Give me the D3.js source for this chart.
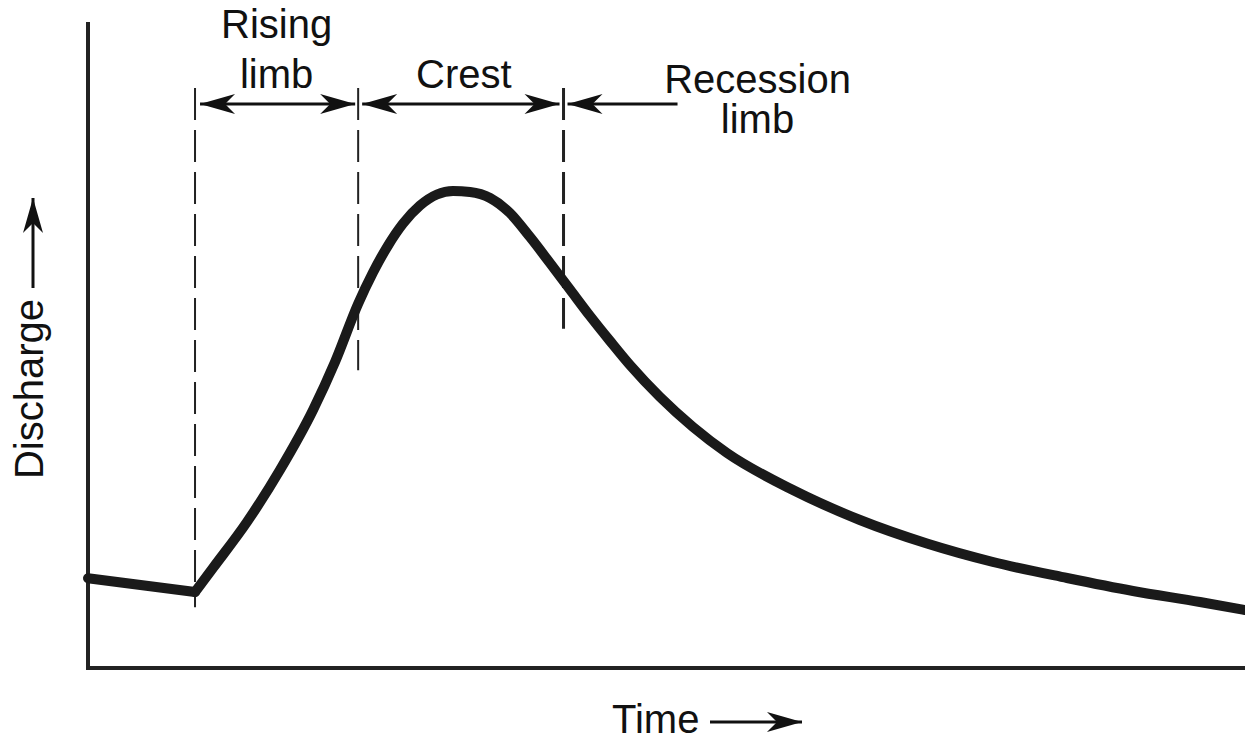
<!DOCTYPE html>
<html>
<head>
<meta charset="utf-8">
<script src="https://cdn.jsdelivr.net/npm/d3@7"></script>
<style>
  body { margin: 0; background: #fff; }
  .label { font-family: "Liberation Sans", Arial, sans-serif; font-size: 40px; fill: #111; }
</style>
</head>
<body>
<div id="chart"></div>
<script>
//hydrograph data (time and discharge in arbitrary units, 0-100)
let baseTime = [0, 9.25];
let baseFlow = [13.9, 11.76];

let stormTime = [9.25, 10.80, 13.74, 16.59, 19.45, 21.35, 23.34, 24.63, 25.93, 27.23, 28.69, 30.16, 31.55,
                 33.02, 34.75, 36.47, 38.20, 39.93, 41.66, 43.39, 45.12, 46.84, 49.44, 52.29, 55.23,
                 60.93, 66.72, 72.51, 78.22, 84.62, 90.32, 96.11, 100];
let stormFlow = [11.76, 15.48, 22.60, 30.65, 39.94, 47.37, 56.35, 61.22, 65.40, 68.81, 71.59, 73.30, 73.84,
                 73.68, 72.76, 70.43, 66.72, 62.69, 58.59, 54.49, 50.62, 46.90, 41.95, 37.31, 33.28,
                 27.55, 22.91, 19.27, 16.41, 13.93, 11.92, 10.22, 8.98];

//phase boundaries (dashed lines) and where each dashed line stops
let phaseTimes = [9.25, 23.35, 41.1];
let phaseBottoms = [9.4, 46.1, 52.5];
let phaseTop = 89.8;
let arrowLevel = 87.3;

//svg size
let svgWidth = 1245;
let svgHeight = 741;

let chartMargin = {
    top: 22,
    right: 0,
    bottom: 73,
    left: 88
};

let chartWidth = svgWidth - chartMargin.left - chartMargin.right;
let chartHeight = svgHeight - chartMargin.top - chartMargin.bottom;

let svg = d3.select('#chart')
            .append('svg')
            .attr('width', svgWidth)
            .attr('height', svgHeight);

//arrowhead marker
let defs = svg.append('defs');
defs.append('marker')
    .attr('id', 'head')
    .attr('viewBox', '-36 -11 37 22')
    .attr('refX', 0)
    .attr('refY', 0)
    .attr('markerWidth', 37)
    .attr('markerHeight', 22)
    .attr('markerUnits', 'userSpaceOnUse')
    .attr('orient', 'auto-start-reverse')
    .append('path')
    .attr('d', 'M0,0 L-35,-10 Q-29,-4 -25,0 Q-29,4 -35,10 Z')
    .attr('fill', '#111');

let chartGroup = svg.append('g')
                    .attr('transform', `translate(${chartMargin.left}, ${chartMargin.top})`);

//scales
let xScale = d3.scaleLinear()
               .domain([0, 100])
               .range([0, chartWidth]);

let yScale = d3.scaleLinear()
               .domain([0, 100])
               .range([chartHeight, 0]);

//axes, just the lines with no ticks
chartGroup.append('line')
          .attr('x1', 0).attr('x2', 0)
          .attr('y1', 0).attr('y2', chartHeight + 2)
          .attr('stroke', '#222')
          .attr('stroke-width', 4);
chartGroup.append('line')
          .attr('x1', -2).attr('x2', chartWidth)
          .attr('y1', chartHeight).attr('y2', chartHeight)
          .attr('stroke', '#222')
          .attr('stroke-width', 4);

//dashed phase lines
chartGroup.selectAll('.phase')
          .data(phaseTimes)
          .enter()
          .append('line')
          .classed('phase', true)
          .attr('x1', d => xScale(d))
          .attr('x2', d => xScale(d))
          .attr('y1', yScale(phaseTop))
          .attr('y2', (d, i) => yScale(phaseBottoms[i]))
          .attr('stroke', '#222')
          .attr('stroke-width', (d, i) => i == 2 ? 3 : 2)
          .attr('stroke-dasharray', '32 10');

//the hydrograph
let baseLine = d3.line()
                 .x(d => xScale(d[0]))
                 .y(d => yScale(d[1]));
let stormLine = d3.line()
                  .x(d => xScale(d[0]))
                  .y(d => yScale(d[1]))
                  .curve(d3.curveMonotoneX);

chartGroup.append('path')
          .attr('d', baseLine(d3.zip(baseTime, baseFlow)))
          .attr('fill', 'none')
          .attr('stroke', '#1a1a1a')
          .attr('stroke-width', 10)
          .attr('stroke-linecap', 'round');
chartGroup.append('path')
          .attr('d', stormLine(d3.zip(stormTime, stormFlow)))
          .attr('fill', 'none')
          .attr('stroke', '#1a1a1a')
          .attr('stroke-width', 10)
          .attr('stroke-linecap', 'round')
          .attr('stroke-linejoin', 'round');

//double arrows between phase lines
let ay = yScale(arrowLevel);
chartGroup.append('line')
          .attr('x1', xScale(phaseTimes[0]) + 5).attr('x2', xScale(phaseTimes[1]) - 3)
          .attr('y1', ay).attr('y2', ay)
          .attr('stroke', '#111').attr('stroke-width', 3)
          .attr('marker-start', 'url(#head)')
          .attr('marker-end', 'url(#head)');
chartGroup.append('line')
          .attr('x1', xScale(phaseTimes[1]) + 4).attr('x2', xScale(phaseTimes[2]) - 4)
          .attr('y1', ay).attr('y2', ay)
          .attr('stroke', '#111').attr('stroke-width', 3)
          .attr('marker-start', 'url(#head)')
          .attr('marker-end', 'url(#head)');
chartGroup.append('line')
          .attr('x1', xScale(phaseTimes[2]) + 4).attr('x2', xScale(phaseTimes[2]) + 114)
          .attr('y1', ay).attr('y2', ay)
          .attr('stroke', '#111').attr('stroke-width', 3)
          .attr('marker-start', 'url(#head)');

//phase labels
let midRising = (xScale(phaseTimes[0]) + xScale(phaseTimes[1])) / 2;
let midCrest = (xScale(phaseTimes[1]) + xScale(phaseTimes[2])) / 2 + 3;
let recX = xScale(phaseTimes[2]) + 194;

chartGroup.append('text').attr('class', 'label').attr('text-anchor', 'middle')
          .attr('x', midRising).attr('y', 16).text('Rising');
chartGroup.append('text').attr('class', 'label').attr('text-anchor', 'middle')
          .attr('x', midRising).attr('y', 66).text('limb');
chartGroup.append('text').attr('class', 'label').attr('text-anchor', 'middle')
          .attr('x', midCrest).attr('y', 66).text('Crest');
chartGroup.append('text').attr('class', 'label').attr('text-anchor', 'middle')
          .attr('x', recX).attr('y', 71).text('Recession');
chartGroup.append('text').attr('class', 'label').attr('text-anchor', 'middle')
          .attr('x', recX).attr('y', 111).text('limb');

//axis titles with arrows
svg.append('text')
   .attr('class', 'label')
   .attr('x', 612)
   .attr('y', 733)
   .text('Time');
svg.append('line')
   .attr('x1', 710).attr('x2', 802)
   .attr('y1', 722).attr('y2', 722)
   .attr('stroke', '#111').attr('stroke-width', 3)
   .attr('marker-end', 'url(#head)');

svg.append('text')
   .attr('class', 'label')
   .attr('transform', 'translate(43, 389) rotate(-90)')
   .attr('text-anchor', 'middle')
   .text('Discharge');
svg.append('line')
   .attr('x1', 33).attr('x2', 33)
   .attr('y1', 288).attr('y2', 198)
   .attr('stroke', '#111').attr('stroke-width', 3)
   .attr('marker-end', 'url(#head)');
</script>
</body>
</html>
